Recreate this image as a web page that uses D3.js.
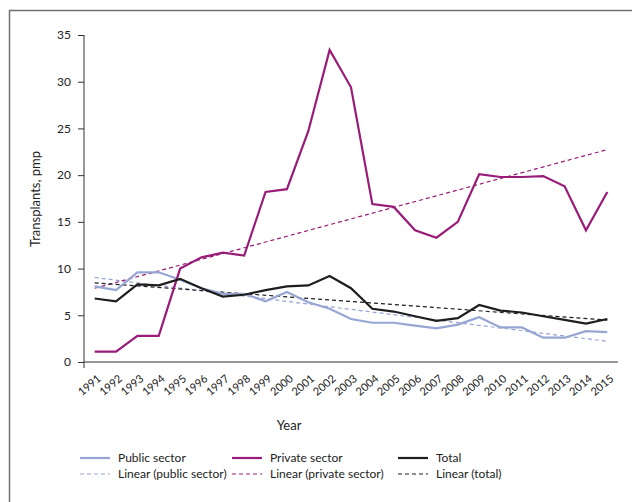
<!DOCTYPE html>
<html>
<head>
<meta charset="utf-8">
<script src="https://cdn.jsdelivr.net/npm/d3@7"></script>
<style>
  body { margin: 0; background: #fff; }
  svg { display: block; font-family: "Lato", "Open Sans", sans-serif; }
</style>
</head>
<body>
<svg id="chart"></svg>
<script>
const width = 632;
const height = 502;

const years = d3.range(1991, 2016);
const publicSector = [8.1, 7.7, 9.6, 9.6, 8.8, 7.9, 7.3, 7.3, 6.5, 7.5, 6.4, 5.7, 4.6, 4.2, 4.2, 3.9, 3.6, 4.0, 4.8, 3.7, 3.7, 2.6, 2.6, 3.3, 3.2];
const privateSector = [1.1, 1.1, 2.8, 2.8, 10.0, 11.2, 11.7, 11.4, 18.2, 18.5, 24.7, 33.4, 29.4, 16.9, 16.6, 14.1, 13.3, 15.0, 20.1, 19.8, 19.8, 19.9, 18.8, 14.1, 18.2];
const total = [6.8, 6.5, 8.3, 8.2, 8.9, 7.9, 7.0, 7.2, 7.7, 8.1, 8.2, 9.2, 7.9, 5.7, 5.4, 4.9, 4.4, 4.7, 6.1, 5.5, 5.3, 4.9, 4.5, 4.1, 4.6];
const yTicks = [0, 5, 10, 15, 20, 25, 30, 35];

const series = [
    { name: "Public sector", trend: "Linear (public sector)", values: publicSector, color: "#97a5d2" },
    { name: "Private sector", trend: "Linear (private sector)", values: privateSector, color: "#981c78" },
    { name: "Total", trend: "Linear (total)", values: total, color: "#1e1e1e" }
];

const svg = d3.select("#chart")
    .attr("width", width)
    .attr("height", height);

// outer frame
svg.append("rect")
    .attr("x", 9.5).attr("y", 10.5)
    .attr("width", 700).attr("height", 600)
    .attr("fill", "none")
    .attr("stroke", "#707070")
    .attr("stroke-width", 1.5);

const x = d3.scalePoint()
    .domain(years)
    .range([84, 618])
    .padding(0.5);

const y = d3.scaleLinear()
    .domain([0, 35])
    .range([362, 35]);

// y axis
const yAxis = svg.append("g")
    .attr("transform", "translate(84,0)")
    .call(d3.axisLeft(y).tickValues(yTicks).tickSize(6).tickPadding(7));
yAxis.select(".domain").remove();
yAxis.selectAll(".tick line").attr("stroke", "#333");
yAxis.selectAll("text")
    .attr("font-size", 12)
    .attr("fill", "#222")
    .attr("font-family", "Lato, sans-serif");

svg.append("line")
    .attr("x1", 84).attr("x2", 84)
    .attr("y1", 35).attr("y2", 368)
    .attr("stroke", "#333").attr("stroke-width", 1);

// x axis
svg.append("line")
    .attr("x1", 84).attr("x2", 618)
    .attr("y1", y(0)).attr("y2", y(0))
    .attr("stroke", "#333").attr("stroke-width", 1);

svg.append("g")
    .selectAll("text")
    .data(years)
    .join("text")
    .attr("transform", d => `translate(${x(d) + 2},${374}) rotate(-40)`)
    .attr("text-anchor", "end")
    .attr("dy", "0.7em")
    .attr("font-size", 11)
    .attr("fill", "#222")
    .text(d => d);

svg.append("text")
    .attr("x", 289).attr("y", 430)
    .attr("text-anchor", "middle")
    .attr("font-size", 13)
    .attr("fill", "#222")
    .text("Year");

svg.append("text")
    .attr("transform", "translate(40,199) rotate(-90)")
    .attr("text-anchor", "middle")
    .attr("font-size", 13)
    .attr("fill", "#222")
    .text("Transplants, pmp");

// least squares trend for each series
function trendLine(values) {
    const idx = values.map((v, i) => i);
    const mx = d3.mean(idx);
    const my = d3.mean(values);
    const slope = d3.sum(idx, i => (i - mx) * (values[i] - my)) / d3.sum(idx, i => (i - mx) * (i - mx));
    const b = my - slope * mx;
    return [0, values.length - 1].map(i => ({ year: years[i], value: b + slope * i }));
}

const line = d3.line()
    .x(d => x(d.year))
    .y(d => y(d.value));

// trends first, then data lines
series.forEach(s => {
    svg.append("path")
        .datum(trendLine(s.values))
        .attr("d", line)
        .attr("fill", "none")
        .attr("stroke", s.color)
        .attr("stroke-width", 1.2)
        .attr("stroke-dasharray", "4,3");
});

series.forEach(s => {
    svg.append("path")
        .datum(s.values.map((v, i) => ({ year: years[i], value: v })))
        .attr("d", line)
        .attr("fill", "none")
        .attr("stroke", s.color)
        .attr("stroke-width", 2.2)
        .attr("stroke-linejoin", "miter");
});

// legend
const legendX = [80, 232, 398];
series.forEach((s, i) => {
    const g = svg.append("g").attr("transform", `translate(${legendX[i]},0)`);
    g.append("line")
        .attr("x1", 0).attr("x2", 30)
        .attr("y1", 458).attr("y2", 458)
        .attr("stroke", s.color).attr("stroke-width", 2.2);
    g.append("text")
        .attr("x", 38).attr("y", 462)
        .attr("font-size", 12).attr("fill", "#222")
        .text(s.name);
    g.append("line")
        .attr("x1", 0).attr("x2", 30)
        .attr("y1", 474).attr("y2", 474)
        .attr("stroke", s.color).attr("stroke-width", 1)
        .attr("stroke-dasharray", "4,3");
    g.append("text")
        .attr("x", 38).attr("y", 478)
        .attr("font-size", 12).attr("fill", "#222")
        .text(s.trend);
});
</script>
</body>
</html>
